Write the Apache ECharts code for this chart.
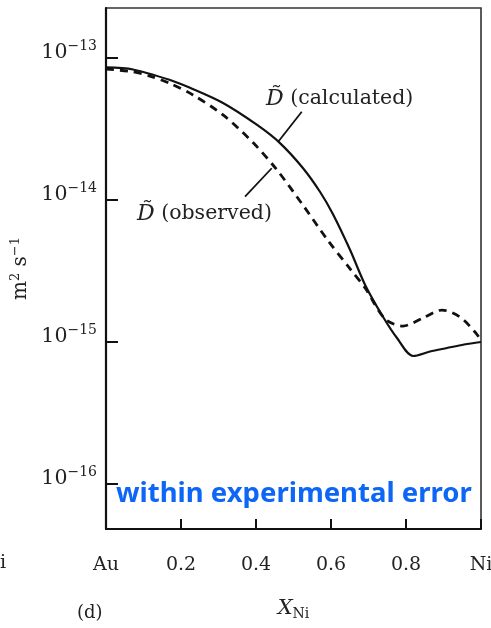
<!DOCTYPE html>
<html><head><meta charset="utf-8">
<script src="https://cdn.jsdelivr.net/npm/echarts@6/dist/echarts.min.js"></script>
<style>html,body{margin:0;padding:0;background:#fff}#c{width:491px;height:628px}</style>
</head><body><div id="c"></div>
<script>
// X_Ni composition points and interdiffusion coefficients (m^2 s^-1)
const calcX = [0, 0.072, 0.171, 0.224, 0.312, 0.403, 0.464, 0.525, 0.571, 0.605, 0.651, 0.691, 0.739, 0.776, 0.819, 0.864, 0.909, 0.955, 1.0];
const calcD = [8.48e-14, 8.21e-14, 6.92e-14, 6.10e-14, 4.77e-14, 3.34e-14, 2.49e-14, 1.663e-14, 1.127e-14, 7.89e-15, 4.40e-15, 2.50e-15, 1.486e-15, 1.057e-15, 7.90e-16, 8.49e-16, 8.99e-16, 9.52e-16, 9.91e-16];
const obsX = [0, 0.069, 0.117, 0.171, 0.232, 0.312, 0.392, 0.456, 0.523, 0.589, 0.651, 0.691, 0.744, 0.792, 0.845, 0.896, 0.944, 0.984, 1.0];
const obsD = [8.27e-14, 7.92e-14, 7.38e-14, 6.54e-14, 5.43e-14, 3.93e-14, 2.51e-14, 1.61e-14, 9.28e-15, 5.26e-15, 3.24e-15, 2.38e-15, 1.44e-15, 1.284e-15, 1.462e-15, 1.664e-15, 1.486e-15, 1.165e-15, 1.023e-15];
const xTickLabels = {0: 'Au', 1: 'Ni'};
const yMin = 4.786e-17, yMax = 2.223e-13;
// annotation arrows [start, end] in data coordinates
const calcArrow = [[0.522, 4.14e-14], [0.4587, 2.535e-14]];
const obsArrow = [[0.3707, 1.045e-14], [0.4419, 1.656e-14]];

const serif = '"DejaVu Serif", "Liberation Serif", serif';
const chart = echarts.init(document.getElementById('c'));
function arrowLine(a) {
  return {
    silent: true, symbol: ['none', 'arrow'], symbolSize: [0, 11],
    lineStyle: {color: '#111', width: 1.8, type: 'solid'}, label: {show: false},
    data: [[{coord: a[0]}, {coord: a[1]}]]
  };
}
chart.setOption({
  animation: false,
  grid: {left: 106, right: 10, top: 8, bottom: 99, show: true, borderColor: '#333', borderWidth: 1.6,
         outerBoundsMode: 'none', containLabel: false},
  xAxis: {
    type: 'value', min: 0, max: 1, interval: 0.2,
    axisLine: {lineStyle: {color: '#111', width: 2}},
    axisTick: {inside: true, length: 10, lineStyle: {color: '#111', width: 2}},
    splitLine: {show: false},
    axisLabel: {margin: 27, color: '#222', fontFamily: serif, fontSize: 19,
      formatter: v => xTickLabels[v] !== undefined ? xTickLabels[v] : v.toFixed(1)},
    name: '{it|X}{sub|Ni}', nameLocation: 'middle', nameGap: 68,
    nameTextStyle: {rich: {
      it: {fontFamily: serif, fontStyle: 'italic', fontSize: 21, color: '#222'},
      sub: {fontFamily: serif, fontSize: 14, color: '#222', padding: [10, 0, 0, 0]}
    }}
  },
  yAxis: {
    type: 'log', logBase: 10, min: yMin, max: yMax,
    axisLine: {lineStyle: {color: '#111', width: 2.2}},
    axisTick: {inside: true, length: 12, lineStyle: {color: '#111', width: 2}},
    splitLine: {show: false},
    axisLabel: {margin: 9, showMinLabel: false, showMaxLabel: false, verticalAlign: 'bottom',
      padding: [0, 0, -6, 0],
      formatter: v => '{b|10}{s|−' + Math.round(-Math.log10(v)) + '}',
      rich: {
        b: {fontFamily: serif, fontSize: 20.5, color: '#222', lineHeight: 21},
        s: {fontFamily: serif, fontSize: 14, color: '#222', padding: [0, 0, 13, 0], lineHeight: 21}
      }
    },
    name: '{b|m}{s|2}{b| s}{s|−1}', nameLocation: 'middle', nameGap: 72, nameRotate: 90,
    nameTextStyle: {rich: {
      b: {fontFamily: serif, fontSize: 20, color: '#222'},
      s: {fontFamily: serif, fontSize: 13, color: '#222', padding: [0, 0, 10, 0]}
    }}
  },
  series: [
    {name: 'calculated', type: 'line', showSymbol: false, smooth: 0.3,
     data: calcX.map((x, i) => [x, calcD[i]]),
     lineStyle: {color: '#111', width: 2.2},
     markLine: arrowLine(calcArrow)},
    {name: 'observed', type: 'line', showSymbol: false, smooth: 0.3,
     data: obsX.map((x, i) => [x, obsD[i]]),
     lineStyle: {color: '#111', width: 2.8, type: [8, 6]},
     markLine: arrowLine(obsArrow)}
  ],
  graphic: [
    {type: 'text', left: 266, top: 88, style: {text: '{d|D̃}{t| (calculated)}', rich: {
      d: {fontFamily: serif, fontStyle: 'italic', fontSize: 22, fill: '#222'},
      t: {fontFamily: serif, fontSize: 20.5, fill: '#222'}}}},
    {type: 'text', left: 137, top: 203, style: {text: '{d|D̃}{t| (observed)}', rich: {
      d: {fontFamily: serif, fontStyle: 'italic', fontSize: 22, fill: '#222'},
      t: {fontFamily: serif, fontSize: 20.5, fill: '#222'}}}},
    {type: 'text', left: 116, top: 480, style: {text: 'within experimental error',
      fontFamily: '"Noto Sans", sans-serif', fontWeight: 'bold', fontSize: 27.5, fill: '#0d66f5'}},
    {type: 'text', left: 77, top: 604, style: {text: '(d)', fontFamily: serif, fontSize: 18, fill: '#222'}},
    {type: 'text', right: 485, top: 554, style: {text: 'Ni', fontFamily: serif, fontSize: 19, fill: '#222'}}
  ]
});
</script></body></html>
